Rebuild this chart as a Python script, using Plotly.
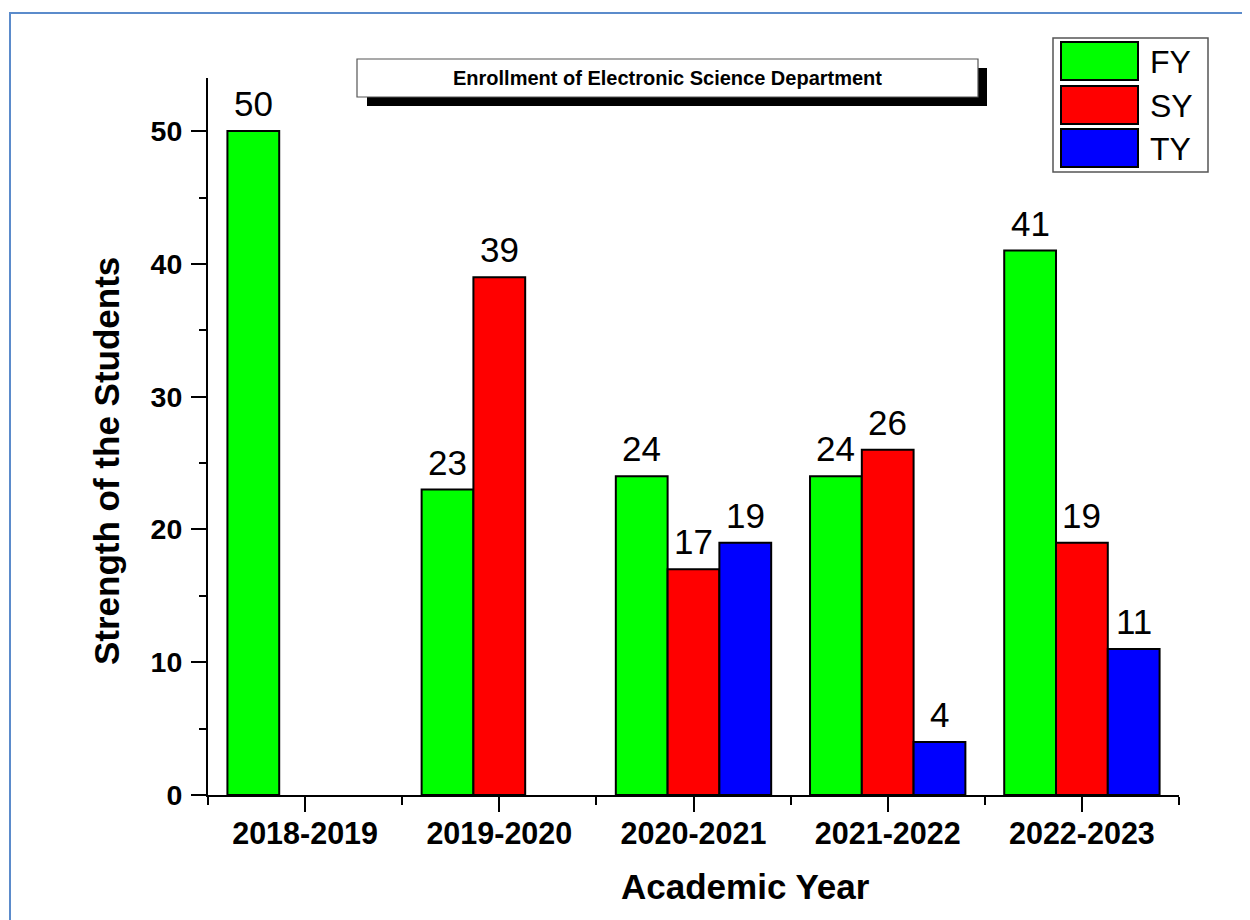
import plotly.graph_objects as go

# ---- data ----
categories = ["2018-2019", "2019-2020", "2020-2021", "2021-2022", "2022-2023"]
series_names = ["FY", "SY", "TY"]
fy_values = [50, 23, 24, 24, 41]
sy_values = [None, 39, 17, 26, 19]
ty_values = [None, None, 19, 4, 11]
series_colors = ["#00FF00", "#FF0000", "#0000FF"]
y_tick_values = [0, 10, 20, 30, 40, 50]
y_minor_values = [5, 15, 25, 35, 45]
chart_title = "Enrollment of Electronic Science Department"
x_title = "Academic Year"
y_title = "Strength of the Students"

# The page body has an 8px margin; work in screenshot pixel coordinates.
OFF = 8
W, H = 1250 - OFF, 920 - OFF
L, R, T, B = 208 - OFF, 1179 - OFF, 78 - OFF, 795 - OFF  # plot area (figure px)


def px_x(px):
    return (px - OFF - L) / (R - L)


def px_y(py):
    return (B - (py - OFF)) / (B - T)


FONT = "Arial, Liberation Sans, sans-serif"
xs = list(range(len(categories)))
BARGAP = 0.2
n_series = len(series_names)
bar_w = (1 - BARGAP) / n_series

fig = go.Figure()
annotations = []
all_vals = [fy_values, sy_values, ty_values]
for k, (name, vals, col) in enumerate(zip(series_names, all_vals, series_colors)):
    fig.add_trace(go.Bar(
        x=xs, y=vals, name=name,
        marker=dict(color=col, line=dict(color="black", width=2)),
        showlegend=False,
    ))
    for i, v in zip(xs, vals):
        if v is None:
            continue
        annotations.append(dict(
            x=i + (k - (n_series - 1) / 2) * bar_w, y=v, xref="x", yref="y",
            text=str(v), showarrow=False, xanchor="center", yanchor="bottom", yshift=6,
            font=dict(family=FONT, size=35, color="black")))

shapes = []
# outer border
shapes.append(dict(type="rect", xref="paper", yref="paper",
                   x0=px_x(10), x1=px_x(1270), y0=px_y(13), y1=px_y(940),
                   line=dict(color="#5B8BCB", width=2), fillcolor="rgba(0,0,0,0)", layer="below"))
# title box shadow + box
shapes.append(dict(type="rect", xref="paper", yref="paper",
                   x0=px_x(367), x1=px_x(987), y0=px_y(68), y1=px_y(106),
                   line=dict(color="black", width=0), fillcolor="black"))
shapes.append(dict(type="rect", xref="paper", yref="paper",
                   x0=px_x(357), x1=px_x(978), y0=px_y(59), y1=px_y(97),
                   line=dict(color="#555555", width=1.2), fillcolor="white"))
# legend box
shapes.append(dict(type="rect", xref="paper", yref="paper",
                   x0=px_x(1053), x1=px_x(1208), y0=px_y(38), y1=px_y(172),
                   line=dict(color="#555555", width=1.5), fillcolor="white"))
sw_top = [42, 86, 129]
for i, (name, col) in enumerate(zip(series_names, series_colors)):
    shapes.append(dict(type="rect", xref="paper", yref="paper",
                       x0=px_x(1061), x1=px_x(1138), y0=px_y(sw_top[i]), y1=px_y(sw_top[i] + 38),
                       line=dict(color="black", width=2), fillcolor=col))
    annotations.append(dict(xref="paper", yref="paper", x=px_x(1148), y=px_y(sw_top[i] + 20),
                            text=name, showarrow=False, xanchor="left", yanchor="middle",
                            font=dict(family=FONT, size=32, color="black")))

annotations.append(dict(xref="paper", yref="paper", x=px_x(667), y=px_y(78),
                        text="<b>" + chart_title + "</b>", showarrow=False,
                        xanchor="center", yanchor="middle",
                        font=dict(family=FONT, size=20, color="black")))
# axis titles
annotations.append(dict(xref="paper", yref="paper", x=px_x(745), y=px_y(886),
                        text="<b>" + x_title + "</b>", showarrow=False,
                        xanchor="center", yanchor="middle",
                        font=dict(family=FONT, size=35, color="black")))
annotations.append(dict(xref="paper", yref="paper", x=px_x(106), y=px_y(461),
                        text="<b>" + y_title + "</b>", showarrow=False, textangle=-90,
                        xanchor="center", yanchor="middle",
                        font=dict(family=FONT, size=35, color="black")))

fig.update_layout(
    width=W, height=H,
    margin=dict(l=L, r=W - R, t=T, b=H - B, pad=0),
    paper_bgcolor="white", plot_bgcolor="white",
    barmode="group", bargap=BARGAP, bargroupgap=0,
    shapes=shapes, annotations=annotations,
    showlegend=False,
    font=dict(family=FONT, color="black"),
)
fig.update_xaxes(
    range=[-0.5, len(categories) - 0.5],
    tickmode="array", tickvals=xs, ticktext=["<b>" + c + "</b>" for c in categories],
    tickfont=dict(family=FONT, size=30.5, color="black"),
    ticks="outside", ticklen=15, tickwidth=2, tickcolor="black",
    minor=dict(tickmode="array", tickvals=[i - 0.5 for i in range(len(categories) + 1)],
               ticks="outside", ticklen=8, tickwidth=2, tickcolor="black", showgrid=False),
    showline=True, linecolor="black", linewidth=2,
    showgrid=False, zeroline=False,
    ticklabelstandoff=-5,
)
fig.update_yaxes(
    range=[0, 54],
    tickmode="array", tickvals=y_tick_values, ticktext=["<b>%d</b>" % v for v in y_tick_values],
    tickfont=dict(family=FONT, size=28.5, color="black"),
    ticks="outside", ticklen=15, tickwidth=2, tickcolor="black",
    minor=dict(tickmode="array", tickvals=y_minor_values,
               ticks="outside", ticklen=7, tickwidth=2, tickcolor="black", showgrid=False),
    showline=True, linecolor="black", linewidth=2,
    showgrid=False, zeroline=False,
    ticklabelstandoff=3,
)

fig.write_html("out.html")
